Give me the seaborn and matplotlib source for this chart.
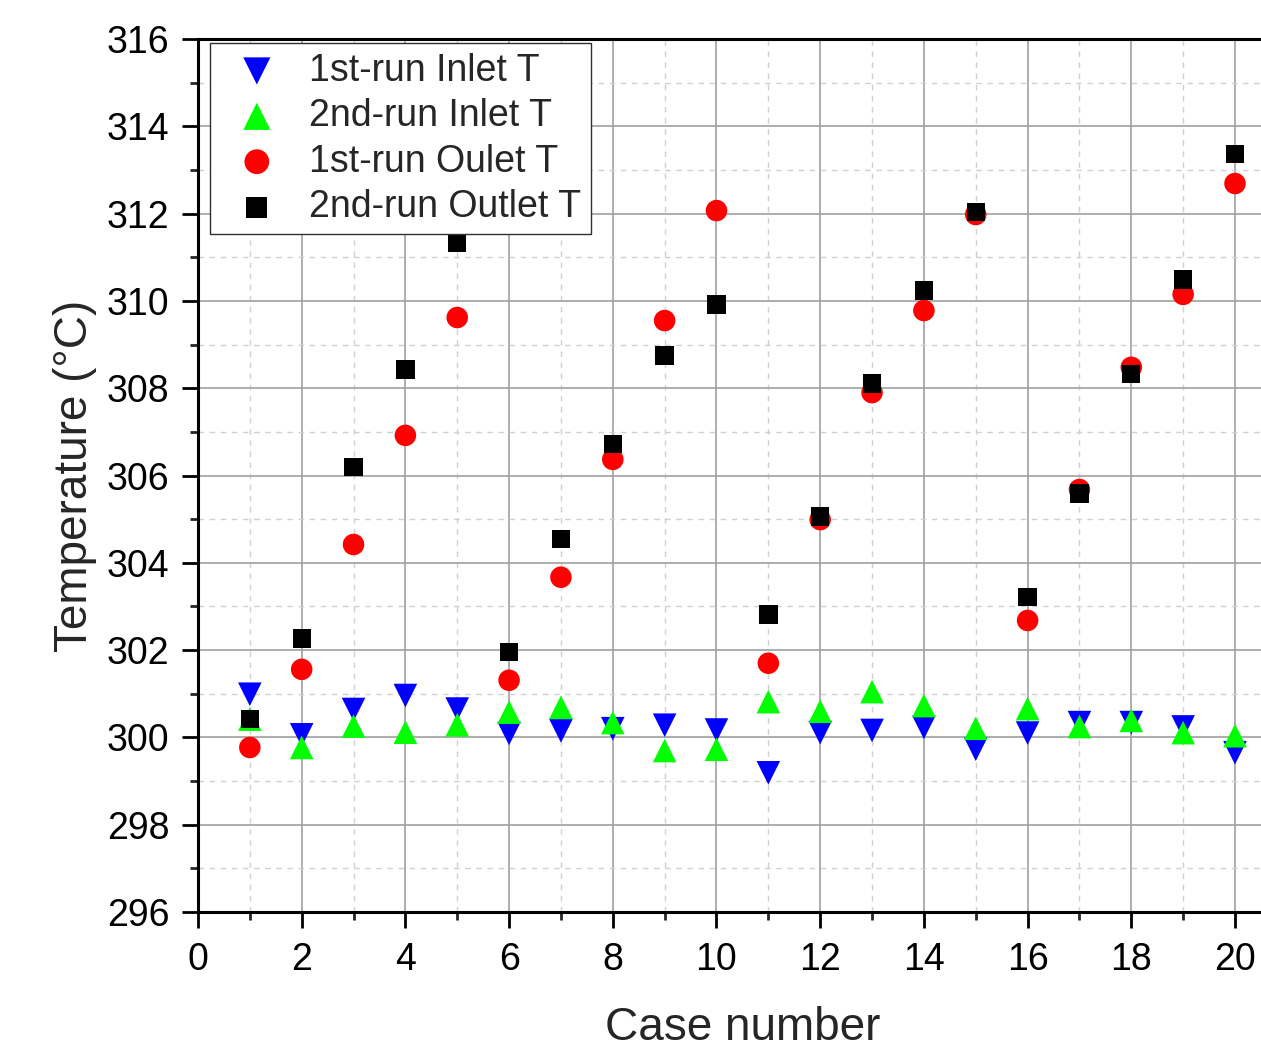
import numpy as np
import pandas as pd
import matplotlib
matplotlib.use("Agg")
import matplotlib.pyplot as plt
import seaborn as sns
from matplotlib.ticker import MultipleLocator

cases = list(range(1, 21))
inlet_1st = [300.99, 300.06, 300.64, 300.96, 300.65, 300.09, 300.15, 300.20, 300.28, 300.17,
             299.19, 300.11, 300.16, 300.23, 299.73, 300.10, 300.34, 300.34, 300.24, 299.65]
inlet_2nd = [300.42, 299.77, 300.26, 300.12, 300.29, 300.58, 300.69, 300.34, 299.70, 299.73,
             300.82, 300.60, 301.05, 300.73, 300.21, 300.66, 300.25, 300.39, 300.11, 300.04]
outlet_1st = [299.77, 301.56, 304.42, 306.92, 309.62, 301.31, 303.67, 306.37, 309.55, 312.07,
              301.70, 304.99, 307.90, 309.78, 311.98, 302.68, 305.68, 308.48, 310.15, 312.69]
outlet_2nd = [300.43, 302.27, 306.19, 308.43, 311.32, 301.95, 304.54, 306.73, 308.75, 309.92,
              302.82, 305.06, 308.11, 310.24, 312.03, 303.21, 305.59, 308.32, 310.49, 313.36]

series_names = ["1st-run Inlet T", "2nd-run Inlet T", "1st-run Oulet T", "2nd-run Outlet T"]
series_vals = [inlet_1st, inlet_2nd, outlet_1st, outlet_2nd]
colors = ["#0000FF", "#00FF00", "#FF0000", "#000000"]
markers = ["v", "^", "o", "s"]
sizes = [17 ** 2, 17 ** 2, 15.5 ** 2, 13.2 ** 2]

sns.set_style("white")
plt.rcParams["font.family"] = ["Liberation Sans", "DejaVu Sans"]

fig = plt.figure(figsize=(12.61, 10.55), dpi=100)
ax = fig.add_axes([0.157, 0.1355, 0.8635, 0.8275])

for name, vals, c, m, s in zip(series_names, series_vals, colors, markers, sizes):
    df = pd.DataFrame({"case": cases, "T": vals})
    sns.scatterplot(data=df, x="case", y="T", ax=ax, marker=m, color=c, s=s,
                    edgecolor="none", linewidth=0, label=name, zorder=3)

ax.set_xlim(0, 21)
ax.set_ylim(296, 316)
ax.xaxis.set_major_locator(MultipleLocator(2))
ax.xaxis.set_minor_locator(MultipleLocator(1))
ax.yaxis.set_major_locator(MultipleLocator(2))
ax.yaxis.set_minor_locator(MultipleLocator(1))

ax.grid(True, which="major", color="#A0A0A0", linewidth=1.2, linestyle="-")
ax.grid(True, which="minor", color="#D0D0D0", linewidth=1.0, linestyle=(0, (4, 4)))
ax.set_axisbelow(True)

for side in ["left", "bottom", "top", "right"]:
    ax.spines[side].set_visible(True)
    ax.spines[side].set_color("black")
    ax.spines[side].set_linewidth(2.2)

ax.tick_params(which="major", direction="out", length=11.5, width=2, labelsize=27,
               colors="black", left=True, bottom=True)
ax.tick_params(which="minor", direction="out", length=5.5, width=2,
               left=True, bottom=True)
ax.tick_params(axis="x", which="major", pad=10)
ax.tick_params(axis="y", which="major", pad=9)
ax.set_xticks(range(0, 21, 2))
ax.set_xticklabels([str(v) for v in range(0, 21, 2)])

ax.set_xlabel("Case number", fontsize=33, labelpad=20)
ax.set_ylabel("Temperature (°C)", fontsize=33, labelpad=7)

leg = ax.legend(loc="upper left", bbox_to_anchor=(0.011, 0.995), fontsize=27,
                frameon=True, fancybox=False, edgecolor="#303030", framealpha=1,
                borderpad=0.25, handletextpad=0.4, labelspacing=0.25,
                handlelength=2.0, borderaxespad=0.0, markerscale=1.15)
leg.get_frame().set_linewidth(1.0)

fig.savefig("out.png", dpi=100)
